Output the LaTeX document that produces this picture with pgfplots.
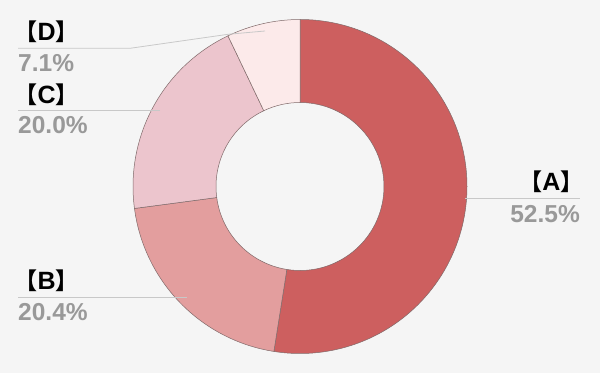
\documentclass[border=0pt]{standalone}
\usepackage{fontspec}
\usepackage{pgfplots}
\usepackage{pgfplotstable}
\pgfplotsset{compat=1.18}
\setmainfont{Liberation Sans}
\newfontfamily\cjk{Noto Sans CJK SC Bold}
\definecolor{bgcol}{HTML}{F5F5F5}
\definecolor{slice0}{HTML}{CD5F5F}
\definecolor{slice1}{HTML}{E39E9E}
\definecolor{slice2}{HTML}{ECC5CD}
\definecolor{slice3}{HTML}{FCEAEA}
\definecolor{edgecol}{HTML}{806A6A}
\definecolor{leader}{HTML}{C8C8C8}
\definecolor{pctcol}{HTML}{999999}
\pgfplotstableread{
label pct
A 52.5
B 20.4
C 20.0
D 7.1
}\piedata
\newcommand{\lab}[1]{{\cjk\fontsize{23}{23}\selectfont 【}\hspace{0.3pt}{\fontsize{25}{25}\selectfont\bfseries #1}\hspace{0.3pt}{\cjk\fontsize{23}{23}\selectfont 】}}
\begin{document}
\begin{tikzpicture}
\begin{axis}[
  x=1pt, y=1pt, scale only axis,
  xmin=0, xmax=600, ymin=0, ymax=373,
  hide axis, clip=false,
]
\fill[bgcol] (axis cs:0,0) rectangle (axis cs:600,373);
\def\cx{300}\def\cy{186.5}\def\R{167}\def\r{84}
\gdef\startang{90}
\pgfplotsforeachungrouped \i in {0,...,3}{%
  \pgfplotstablegetelem{\i}{pct}\of\piedata
  \pgfmathsetmacro\stopang{\startang-3.6*\pgfplotsretval}
  \pgfmathsetmacro\xa{\cx+\R*cos(\startang)}
  \pgfmathsetmacro\ya{\cy+\R*sin(\startang)}
  \pgfmathsetmacro\xb{\cx+\r*cos(\stopang)}
  \pgfmathsetmacro\yb{\cy+\r*sin(\stopang)}
  \edef\cmd{\noexpand\draw[draw=edgecol, line width=0.5pt, fill=slice\i]
    (axis cs:\xa,\ya) arc[start angle=\startang, end angle=\stopang, radius=\R pt]
    -- (axis cs:\xb,\yb) arc[start angle=\stopang, end angle=\startang, radius=\r pt] -- cycle;}
  \cmd
  \global\let\startang\stopang
}
% leader lines
\addplot[leader, line width=0.8pt] coordinates {(265,342) (228,338.7) (130,324.7) (18,324.7)};
\addplot[leader, line width=0.8pt] coordinates {(160,263) (18,263)};
\addplot[leader, line width=0.8pt] coordinates {(187,75.5) (18,75.5)};
\addplot[leader, line width=0.8pt] coordinates {(465,175) (580,175)};
% labels
\tikzset{lb/.style={inner sep=0pt, font=\fontsize{24.5}{24.5}\selectfont\bfseries}}
\node[lb, anchor=west] at (axis cs:14,341) {\lab{D}};
\node[lb, anchor=west, text=pctcol] at (axis cs:18,310) {7.1\%};
\node[lb, anchor=west] at (axis cs:14,278) {\lab{C}};
\node[lb, anchor=west, text=pctcol] at (axis cs:18,248) {20.0\%};
\node[lb, anchor=west] at (axis cs:14,92) {\lab{B}};
\node[lb, anchor=west, text=pctcol] at (axis cs:18,60.5) {20.4\%};
\node[lb, anchor=east] at (axis cs:584,191.5) {\lab{A}};
\node[lb, anchor=east, text=pctcol] at (axis cs:580,159) {52.5\%};
\end{axis}
\end{tikzpicture}
\end{document}
